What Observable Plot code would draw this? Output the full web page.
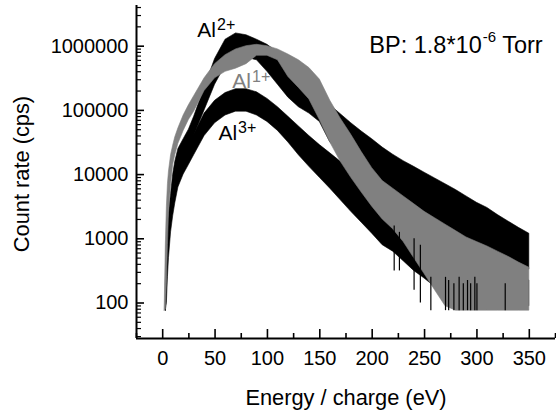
<!DOCTYPE html>
<html><head><meta charset="utf-8">
<script src="https://cdn.jsdelivr.net/npm/d3@7"></script>
<script src="https://cdn.jsdelivr.net/npm/@observablehq/plot@0.6"></script>
<style>
html,body{margin:0;padding:0;background:#fff;}
#chart{width:556px;height:417px;}
#chart svg text{font-family:"Liberation Sans",Arial,sans-serif !important;}
</style></head><body><div id="chart"></div>
<script>
// Energy / charge grid (eV)
const energy = [2,3,4,5,6,8,10,12,15,20,25,30,40,50,60,70,80,90,100,110,120,130,140,150,160,170,180,190,200,210,220,230,240,250,260,270,280,290,300,310,320,330,340,350];

// Al1+ (grey) noise band: upper and lower envelope, counts per second
const al1Hi = [100,794,3160,7080,11200,20000,28200,38000,52500,83200,120000,166000,316000,525000,724000,891000,1000000,1050000,1000000,891000,741000,603000,457000,302000,141000,74100,41700,22400,12600,7940,6030,4570,3470,2630,2090,1660,1320,1050,891,759,631,525,427,355];
const al1Lo = [76,79,200,794,2510,7080,14100,20000,30200,47900,70800,95500,200000,316000,398000,447000,525000,708000,708000,603000,331000,224000,148000,70800,31600,15800,8910,5250,3160,2000,1410,891,501,282,158,89,76,76,76,76,76,76,76,76];

// Al2+ (black, highest peak)
const al2Hi = [null,200,891,1580,2510,5010,10000,15800,25100,35500,50100,79400,224000,631000,1260000,1580000,1480000,1260000,1050000,794000,525000,355000,251000,166000,120000,87100,63100,46800,35500,26300,20400,16200,13200,10700,8710,7080,5750,4570,3630,3020,2340,1860,1480,1200];
const al2Lo = [null,76,200,501,1000,2240,4470,7080,11200,17800,26300,39800,100000,251000,501000,661000,661000,603000,398000,251000,158000,112000,89100,66100,31600,22400,17800,14100,10500,6310,4790,3630,2750,2090,1660,1320,1050,832,708,603,525,457,398,331];

// Al3+ (black, lower band)
const al3Hi = [null,89,316,708,1260,2820,5010,7940,12600,20000,29500,41700,89100,141000,186000,214000,214000,191000,151000,112000,79400,56200,39800,28800,21400,15800,11700,8710,6610,5010,3800,2950,2290,1780,1410,1120,891,708,575,468,380,316,263,224];
const al3Lo = [null,76,100,251,501,1260,2240,3550,6310,10000,14100,20000,39800,63100,83200,95500,95500,83200,66100,47900,31600,20000,13200,8910,6030,3980,2630,1780,1200,794,631,447,316,240,178,141,112,95,89,89,89,89,89,89];

// Isolated deep Al3+ spikes visible through the grey tail
const spikeE      = [221,226,240,246,256,270,273,278,283,287,291,294,298,300,327];
const spikeTop    = [1580,1260,1000,794,251,251,224,200,251,200,224,200,251,200,200];
const spikeBottom = [316,316,158,100,76,76,76,76,76,76,76,76,76,76,76];

// Axis ticks
const xMajor = [0,50,100,150,200,250,300,350];
const xMinor = [-25,25,75,125,175,225,275,325,375];
const yMajor = [100,1000,10000,100000,1000000];
const yMinor = [];
for (const d of [10,100,1000,10000,100000,1000000]) for (let m = 2; m <= 9; m++) { const v = d*m; if (v > 28 && v < 4.3e6) yMinor.push(v); }

// Annotations
const labels = [
  {main: "Al", sup: "2+", after: "", E: 33.1, count: 1.37e6, color: "#000000", size: 21, supSize: 16, rise: 7},
  {main: "Al", sup: "1+", after: "", E: 66.5, count: 2.27e5, color: "#808080", size: 21, supSize: 16, rise: 6},
  {main: "Al", sup: "3+", after: "", E: 53.2, count: 3.4e4, color: "#000000", size: 21, supSize: 16, rise: 7},
  {main: "BP: 1.8*10", sup: "-6", after: " Torr", E: 197.3, count: 7.7e5, color: "#000000", size: 23.5, supSize: 15, rise: 11}
];

const W = 556, H = 417;
const mL = 136, mR = 1, mT = 5, mB = 79;
const xDomain = [-25, 375];
const yDomain = [28, 4.3e6];
const xPerPx = (xDomain[1] - xDomain[0]) / (W - mL - mR);
const pxPerDecade = (H - mT - mB) / Math.log10(yDomain[1] / yDomain[0]);
const yUp = px => yDomain[0] * Math.pow(10, px / pxPerDecade);

const FONT = "'Liberation Sans', Arial, sans-serif";
const ctx = document.createElement("canvas").getContext("2d");
const measure = (s, size) => { ctx.font = `${size}px ${FONT}`; return ctx.measureText(s).width; };

const band = (hi, lo) => energy.map((e, i) => ({e, hi: hi[i], lo: lo[i]})).filter(d => d.hi != null && d.lo != null);
const spikes = spikeE.map((e, i) => ({e, top: spikeTop[i], bottom: spikeBottom[i]}));

const textMarks = labels.flatMap(d => {
  const wMain = measure(d.main, d.size), wSup = measure(d.sup, d.supSize);
  const common = {y: [d.count], fill: d.color, textAnchor: "start", lineAnchor: "bottom"};
  const marks = [
    Plot.text([d.main], {...common, x: [d.E], fontSize: d.size}),
    Plot.text([d.sup], {...common, x: [d.E + (wMain + 1) * xPerPx], fontSize: d.supSize, dy: -d.rise})
  ];
  if (d.after) marks.push(Plot.text([d.after], {...common, x: [d.E + (wMain + wSup + 1) * xPerPx], fontSize: d.size}));
  return marks;
});

const chart = Plot.plot({
  width: W, height: H,
  marginLeft: mL, marginRight: mR, marginTop: mT, marginBottom: mB,
  style: {fontFamily: FONT, fontSize: "20px", background: "#fff", color: "#000"},
  x: {domain: xDomain},
  y: {type: "log", domain: yDomain},
  marks: [
    Plot.areaY(band(al3Hi, al3Lo), {x: "e", y1: "lo", y2: "hi", fill: "#000000", stroke: "#000000", strokeWidth: 0.6}),
    Plot.areaY(band(al2Hi, al2Lo), {x: "e", y1: "lo", y2: "hi", fill: "#000000", stroke: "#000000", strokeWidth: 0.6}),
    Plot.areaY(band(al1Hi, al1Lo), {x: "e", y1: "lo", y2: "hi", fill: "#808080", stroke: "#808080", strokeWidth: 0.6}),
    Plot.ruleX(spikes, {x: "e", y1: "bottom", y2: "top", stroke: "#000000", strokeWidth: 1.2}),
    // axis lines
    Plot.ruleX([xDomain[0]], {y1: yDomain[0], y2: yDomain[1], stroke: "#000", strokeWidth: 2}),
    Plot.ruleY([yDomain[0]], {x1: xDomain[0], x2: xDomain[1], stroke: "#000", strokeWidth: 2}),
    // inward ticks
    Plot.ruleY(yMajor, {x1: xDomain[0], x2: xDomain[0] + 8 * xPerPx, stroke: "#000", strokeWidth: 1.6}),
    Plot.ruleY(yMinor, {x1: xDomain[0], x2: xDomain[0] + 5 * xPerPx, stroke: "#000", strokeWidth: 1.2}),
    Plot.ruleX(xMajor, {y1: yDomain[0], y2: yUp(9), stroke: "#000", strokeWidth: 1.6}),
    Plot.ruleX(xMinor, {y1: yDomain[0], y2: yUp(5), stroke: "#000", strokeWidth: 1.6}),
    Plot.axisY({ticks: yMajor, tickSize: 0, tickPadding: 8, tickFormat: d => String(d), label: null}),
    Plot.axisX({ticks: xMajor, tickSize: 0, tickPadding: 12, tickFormat: d => String(d), label: null}),
    // axis titles
    Plot.text(["Count rate (cps)"], {frameAnchor: "left", textAnchor: "middle", rotate: -90, dx: -114, dy: 2, fontSize: 21.8, fill: "#000"}),
    Plot.text(["Energy / charge (eV)"], {frameAnchor: "bottom", textAnchor: "middle", lineAnchor: "bottom", dy: 66, fontSize: 21.8, fill: "#000"}),
    ...textMarks
  ]
});
document.getElementById("chart").appendChild(chart);
</script></body></html>
